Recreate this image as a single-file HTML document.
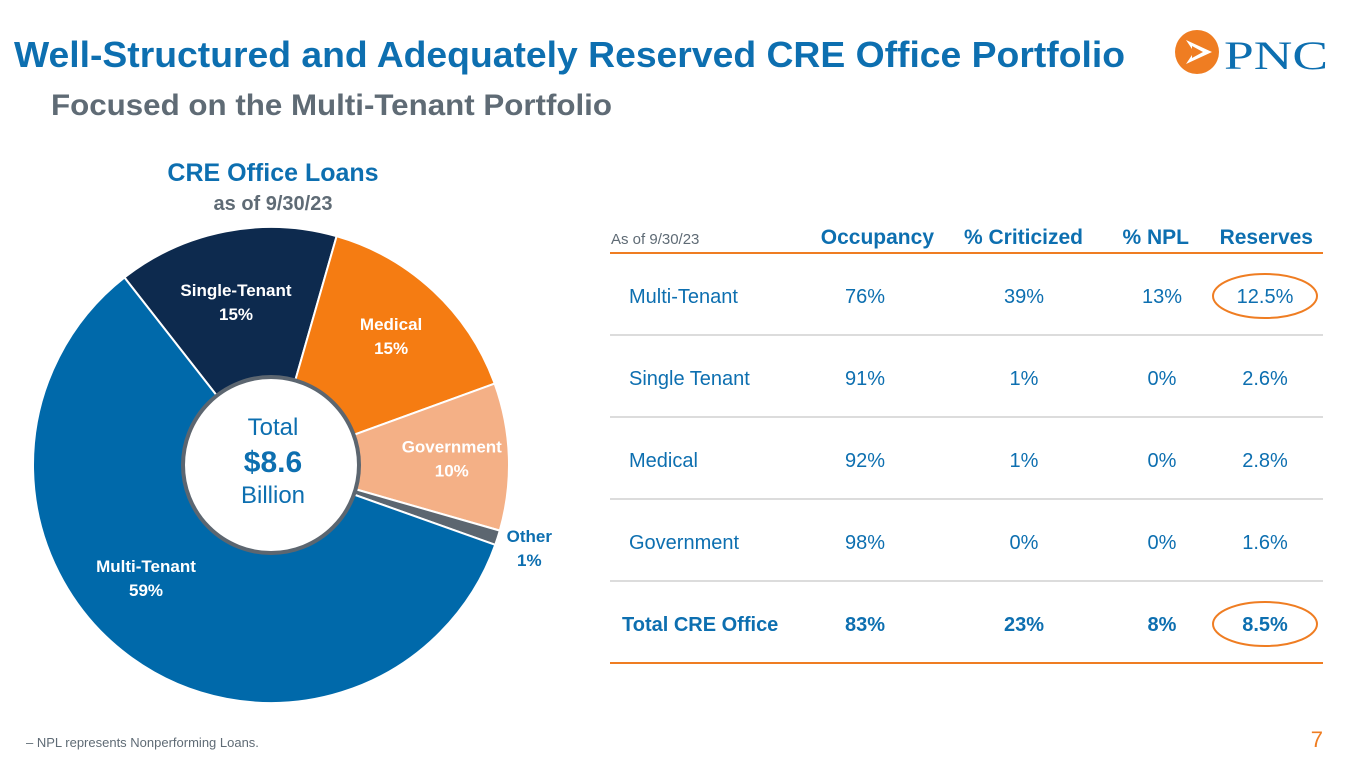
<!DOCTYPE html>
<html><head><meta charset="utf-8"><style>
html,body{margin:0;padding:0;background:#fff;}
body{width:1365px;height:768px;overflow:hidden;position:relative;font-family:"Liberation Sans",sans-serif;}
svg text{font-family:"Liberation Sans",sans-serif;}
</style></head><body>
<svg id="chart" width="1365" height="768" viewBox="0 0 1365 768">
<text x="14" y="67" font-size="36" font-weight="bold" fill="#0d6fb0" textLength="1111" lengthAdjust="spacingAndGlyphs">Well-Structured and Adequately Reserved CRE Office Portfolio</text>
<text x="51" y="115" font-size="30" font-weight="bold" fill="#5f6b75" textLength="561" lengthAdjust="spacingAndGlyphs">Focused on the Multi-Tenant Portfolio</text>
<g>
<circle cx="1197" cy="52" r="22" fill="#ef7d22"/>
<path d="M1186 40 L1212 52 L1186 64 L1194 52 Z" fill="#fff"/>
<path d="M1192 46 L1203 52 L1192 58 Z" fill="#ef7d22"/>
<text x="1224" y="69" font-size="40" fill="#0d6fb0" textLength="104" lengthAdjust="spacingAndGlyphs" style="font-family:'Liberation Serif',serif">PNC</text>
</g>
<text x="273" y="181" font-size="25" font-weight="bold" fill="#0d6fb0" text-anchor="middle">CRE Office Loans</text>
<text x="273" y="210" font-size="20" font-weight="bold" fill="#5f6b75" text-anchor="middle">as of 9/30/23</text>
<g id="pie"></g>
<circle cx="271" cy="465" r="88" fill="#fff" stroke="#5c6670" stroke-width="4"/>
<text x="273" y="435" font-size="24" fill="#0d6fb0" text-anchor="middle">Total</text>
<text x="273" y="472" font-size="30" font-weight="bold" fill="#0d6fb0" text-anchor="middle">$8.6</text>
<text x="273" y="503" font-size="24" fill="#0d6fb0" text-anchor="middle">Billion</text>
<g id="table"></g>
<text x="26" y="747" font-size="13" fill="#5f6b75">– NPL represents Nonperforming Loans.</text>
<text x="1323" y="747" font-size="22" fill="#ef7d22" text-anchor="end">7</text>
</svg>
<script>
var NS="http://www.w3.org/2000/svg";
var segNames=["Single-Tenant","Medical","Government","Other","Multi-Tenant"];
var segValues=[15,15,10,1,59];
var segColors=["#0d2a4e","#f57c12","#f4b086","#5c6670","#0069aa"];
var segLabelColors=["#fff","#fff","#fff","#0d6fb0","#fff"];
var cx=271,cy=465,R=238,startDeg=-38;
var total=segValues.reduce(function(a,b){return a+b;},0);
var pie=document.getElementById("pie");
var a=startDeg;
function pt(deg,r){var t=deg*Math.PI/180;return [cx+r*Math.sin(t),cy-r*Math.cos(t)];}
var labelR=[0.66,0.74,0.76,1.14,0.72];
for(var i=0;i<segValues.length;i++){
  var sweep=segValues[i]/total*360,b=a+sweep;
  var p1=pt(a,R),p2=pt(b,R);
  var path=document.createElementNS(NS,"path");
  path.setAttribute("d","M"+cx+" "+cy+" L"+p1[0]+" "+p1[1]+" A"+R+" "+R+" 0 "+(sweep>180?1:0)+" 1 "+p2[0]+" "+p2[1]+" Z");
  path.setAttribute("fill",segColors[i]);path.setAttribute("stroke","#fff");path.setAttribute("stroke-width","2");
  
  
  pie.appendChild(path);
  var mid=a+sweep/2;
  var lp=pt(mid,R*labelR[i]);
  if(i===4){lp=[146,578];}
  if(i===0){lp=[236,302];}
  var t1=document.createElementNS(NS,"text");
  t1.setAttribute("x",lp[0]);t1.setAttribute("y",lp[1]-6);t1.setAttribute("text-anchor","middle");
  t1.setAttribute("font-size","17");t1.setAttribute("font-weight","bold");t1.setAttribute("fill",segLabelColors[i]);
  t1.textContent=segNames[i];
  
  
  pie.appendChild(t1);
  var t2=document.createElementNS(NS,"text");
  t2.setAttribute("x",lp[0]);t2.setAttribute("y",lp[1]+18);t2.setAttribute("text-anchor","middle");
  t2.setAttribute("font-size","17");t2.setAttribute("font-weight","bold");t2.setAttribute("fill",segLabelColors[i]);
  t2.textContent=segValues[i]+"%";
  
  
  pie.appendChild(t2);
  a=b;
}
var headers=["Occupancy","% Criticized","% NPL","Reserves"];
var rowNames=["Multi-Tenant","Single Tenant","Medical","Government","Total CRE Office"];
var occupancy=["76%","91%","92%","98%","83%"];
var criticized=["39%","1%","1%","0%","23%"];
var npl=["13%","0%","0%","0%","8%"];
var reserves=["12.5%","2.6%","2.8%","1.6%","8.5%"];
var tb=document.getElementById("table");
function txt(x,y,s,sz,w,fill,anchor,name){var t=document.createElementNS(NS,"text");t.setAttribute("x",x);t.setAttribute("y",y);t.setAttribute("font-size",sz);if(w)t.setAttribute("font-weight",w);t.setAttribute("fill",fill);t.setAttribute("text-anchor",anchor);t.textContent=s;


tb.appendChild(t);return t;}
function line(y,c,w){var l=document.createElementNS(NS,"line");l.setAttribute("x1",610);l.setAttribute("x2",1323);l.setAttribute("y1",y);l.setAttribute("y2",y);l.setAttribute("stroke",c);l.setAttribute("stroke-width",w);


tb.appendChild(l);}
txt(611,244,"As of 9/30/23",15,null,"#5f6b75","start","table-date");
var hx=[934,1083,1189,1313];
for(var h=0;h<4;h++)txt(hx[h],244,headers[h],21,"bold","#0d6fb0","end","column-header");
line(253,"#ef7d22",2);
var cols=[occupancy,criticized,npl,reserves], cxs=[865,1024,1162,1265];
for(var r=0;r<rowNames.length;r++){
  var y=303+r*82, last=r===rowNames.length-1;
  txt(last?622:629,y,rowNames[r],20,last?"bold":null,"#0d6fb0","start","row-label");
  for(var c=0;c<4;c++)txt(cxs[c],y,cols[c][r],20,last?"bold":null,"#0d6fb0","middle","table-cell");
  if(!last)line(335+r*82,"#d0d0d0",1.5);
}
line(663,"#ef7d22",2);
[[296],[624]].forEach(function(o){var e=document.createElementNS(NS,"ellipse");e.setAttribute("cx",1265);e.setAttribute("cy",o[0]);e.setAttribute("rx",52);e.setAttribute("ry",22);e.setAttribute("fill","none");e.setAttribute("stroke","#ef7d22");e.setAttribute("stroke-width",2);


tb.appendChild(e);});
</script>
</body></html>
